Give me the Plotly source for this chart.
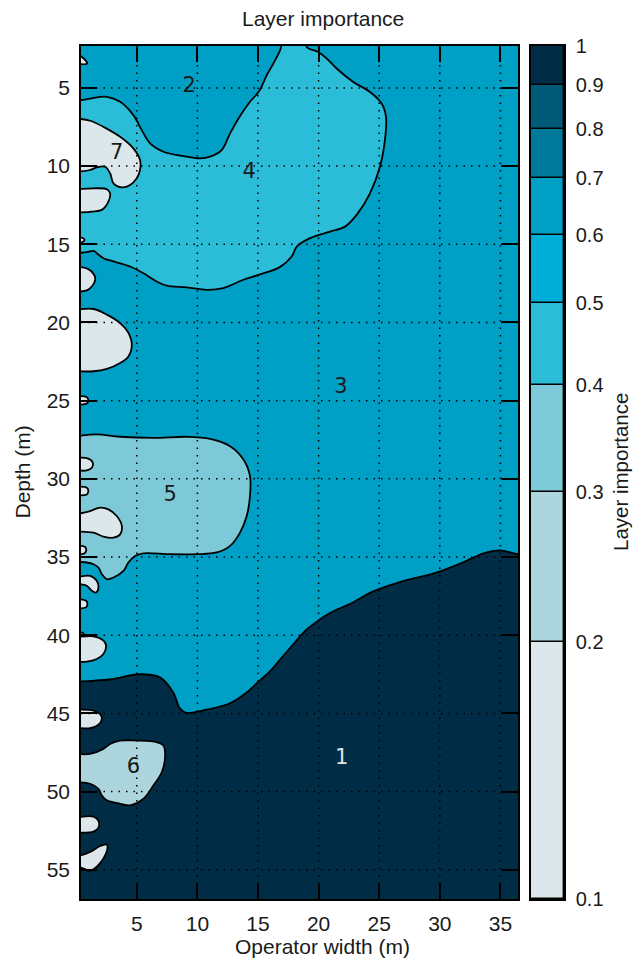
import bisect
import plotly.graph_objects as go

# ---------------- axes ----------------
x_ticks = [5, 10, 15, 20, 25, 30, 35]
y_ticks = [5, 10, 15, 20, 25, 30, 35, 40, 45, 50, 55]
x_range = [0.4, 36.45]
y_range = [56.87, 2.32]

# ---------------- colour levels ----------------
levels = [0.1, 0.2, 0.3, 0.4, 0.5, 0.6, 0.7, 0.8, 0.9, 1.0]
level_labels = ["0.1", "0.2", "0.3", "0.4", "0.5", "0.6", "0.7", "0.8", "0.9", "1"]
band_colors = ["#dce7ec", "#acd5de", "#7dc9d7", "#2bbdd8", "#00afd7",
               "#009fc6", "#007a9a", "#005a78", "#002d45"]

# ---------------- layers ----------------
layer_ids = ["1", "2", "3", "4", "5", "6", "7"]
layer_importance = [0.95, 0.66, 0.64, 0.45, 0.35, 0.25, 0.15]
label_x = [21.9, 9.32, 21.85, 14.27, 7.75, 4.73, 3.35]
label_y = [47.9, 4.95, 24.2, 10.4, 31.1, 48.5, 9.2]

# layer 1 (deep, dark)
layer1_x = [0, 1.5, 3.08, 5.0, 6.9, 8.0, 8.57, 9.1, 10.5, 12.7, 14.0, 15.0, 16.0, 17.0, 18.0,
            19.0, 20.0, 21.0, 22.6, 24.5, 26.7, 29.7, 31.9, 33.6, 34.95, 36.3, 40, 40, 0]
layer1_y = [42.97, 42.9, 42.8, 42.5, 42.7, 43.65, 44.7, 44.97, 44.8, 44.35, 43.7, 43.0, 42.3, 41.4, 40.5,
            39.65, 39.05, 38.55, 38.0, 37.2, 36.6, 36.0, 35.35, 34.76, 34.57, 34.8, 35.3, 60, 60]

# layer 4
layer4_x = [0, 1.15, 2.53, 3.63, 4.72, 5.41, 6.1, 7.2, 8.85, 10.22, 11.05, 12.0, 12.7, 13.52,
            14.34, 15.1, 15.72, 16.27, 16.82, 17.3, 18.9, 19.02, 19.98, 20.67, 21.49, 22.86,
            24.24, 25.2, 25.56, 25.47, 25.06, 24.24, 23.14, 22.18, 20.94, 19.3, 18.2, 17.78,
            16.8, 15.17, 13.8, 12.14, 10.77, 9.12, 7.48, 6.65, 5.55, 4.45, 3.08, 2.25, 1.7,
            1.43, 0.9, 0]
layer4_y = [5.85, 5.68, 5.57, 5.89, 6.74, 7.7, 8.55, 9.08, 9.36, 9.51, 9.4, 8.98, 7.91, 6.8,
            5.89, 5.2, 4.19, 3.44, 2.6, 1.6, 1.6, 2.38, 2.7, 3.12, 3.76, 4.62,
            5.26, 6.0, 6.85, 8.34, 10.04, 11.74, 13.12, 13.87, 14.19, 14.61, 15.15, 15.78,
            16.46, 16.93, 17.27, 17.8, 17.91, 17.76, 17.65, 17.38, 16.85, 16.42, 16.1, 15.89, 15.57,
            15.42, 15.5, 15.57]

# layer 5
layer5_x = [0, 1.7, 3.63, 6.38, 9.12, 11.05, 12.7, 13.8, 14.34, 14.34, 14.07, 13.52, 12.7,
            11.6, 9.95, 7.75, 5.55, 4.86, 4.31, 3.9, 3.08, 2.53, 2.12, 1.84, 1.43, 0.88, 0]
layer5_y = [27.27, 27.16, 27.31, 27.38, 27.31, 27.44, 27.91, 28.76, 29.82, 31.1, 32.38, 33.44, 34.29,
            34.71, 34.82, 34.82, 34.76, 34.93, 35.35, 35.89, 36.31, 36.42, 36.1, 35.67, 35.46, 35.35, 35.31]

# layer 6
layer6_x = [0, 1.15, 2.25, 2.8, 3.63, 5.0, 6.65, 7.2, 7.34, 7.07, 6.38, 5.55, 4.45, 3.63,
            2.53, 2.12, 1.84, 1.15, 0]
layer6_y = [47.59, 47.59, 47.27, 46.95, 46.74, 46.74, 46.84, 47.05, 47.69, 48.75, 49.6, 50.46, 50.88, 50.78,
            50.56, 50.25, 49.82, 49.5, 49.4]

# layer 7
layer7_x = [0, 1.15, 2.25, 3.63, 4.72, 5.27, 5.27, 5.0, 4.45, 3.77, 3.08, 2.8, 2.39, 1.7, 1.15, 0]
layer7_y = [6.95, 7.1, 7.49, 8.13, 8.87, 9.61, 10.25, 10.78, 11.21, 11.36, 11.1, 10.46, 10.04, 10.08, 10.25, 10.36]

# small low-importance patches along the left edge
patch_a_x = [0, 0.45, 0.9, 0];                       patch_a_y = [2.9, 3.0, 3.44, 3.44]
patch_b_x = [0, 1.43, 2.53, 2.8, 2.66, 2.12, 1.29, 0]; patch_b_y = [11.48, 11.42, 11.48, 11.74, 12.27, 12.8, 12.91, 12.98]
patch_c_x = [0, 0.5, 0.7, 0.5, 0];                   patch_c_y = [14.55, 14.58, 14.72, 14.86, 14.89]
patch_d_x = [0, 1.01, 1.48, 1.57, 1.29, 0.88, 0];    patch_d_y = [16.42, 16.59, 16.95, 17.27, 17.7, 17.95, 18.02]
patch_e_x = [0, 1.43, 2.53, 3.63, 4.31, 4.59, 4.31, 3.63, 2.53, 1.43, 0]
patch_e_y = [19.19, 19.14, 19.5, 20.04, 20.67, 21.42, 22.17, 22.59, 22.97, 23.12, 23.12]
patch_f_x = [0, 0.88, 1.01, 0.88, 0];                patch_f_y = [24.72, 24.78, 24.99, 25.18, 25.25]
patch_g_x = [0, 1.01, 1.37, 1.29, 0.88, 0];          patch_g_y = [28.65, 28.71, 28.97, 29.29, 29.46, 29.46]
patch_h_x = [0, 0.88, 1.01, 0.88, 0];                patch_h_y = [30.5, 30.57, 30.78, 31.0, 31.04]
patch_i_x = [0, 1.15, 1.98, 2.66, 3.35, 3.77, 3.63, 3.08, 2.25, 1.43, 0]
patch_i_y = [32.27, 32.06, 31.84, 31.95, 32.38, 33.02, 33.55, 33.76, 33.69, 33.44, 33.37]
patch_j_x = [0, 0.74, 0.82, 0.66, 0];                patch_j_y = [34.29, 34.36, 34.61, 34.78, 34.82]
patch_k_x = [0, 1.15, 1.7, 1.84, 1.65, 1.29, 0.88, 0]; patch_k_y = [36.31, 36.2, 36.52, 36.95, 37.27, 37.16, 36.84, 36.73]
patch_l_x = [0, 0.82, 0.93, 0.82, 0];                patch_l_y = [37.69, 37.8, 38.0, 38.22, 38.29]
patch_m_x = [0, 0.55, 0.62, 0];                      patch_m_y = [39.8, 39.85, 40.0, 40.05]
patch_n_x = [0, 1.43, 2.25, 2.47, 2.25, 1.7, 0.88, 0]; patch_n_y = [40.14, 40.07, 40.35, 40.67, 41.2, 41.52, 41.69, 41.69]
patch_o_x = [0, 1.43, 1.98, 2.12, 1.84, 1.15, 0];    patch_o_y = [44.76, 44.82, 45.05, 45.35, 45.73, 45.95, 45.9]
patch_p_x = [0, 1.43, 1.84, 1.84, 1.43, 0];          patch_p_y = [51.67, 51.6, 51.88, 52.3, 52.56, 52.62]
patch_q_x = [0, 1.15, 1.98, 2.53, 2.58, 2.25, 1.7, 1.15, 0.6, 0]
patch_q_y = [54.18, 53.86, 53.48, 53.39, 53.65, 54.28, 54.81, 55.07, 54.92, 54.7]

patches = [(patch_a_x, patch_a_y), (patch_b_x, patch_b_y), (patch_c_x, patch_c_y),
           (patch_d_x, patch_d_y), (patch_e_x, patch_e_y), (patch_f_x, patch_f_y),
           (patch_g_x, patch_g_y), (patch_h_x, patch_h_y), (patch_i_x, patch_i_y),
           (patch_j_x, patch_j_y), (patch_k_x, patch_k_y), (patch_l_x, patch_l_y),
           (patch_m_x, patch_m_y), (patch_n_x, patch_n_y), (patch_o_x, patch_o_y),
           (patch_p_x, patch_p_y), (patch_q_x, patch_q_y)]
patch_importance = 0.15


def band_color(v):
    i = bisect.bisect_right(levels, v) - 1
    i = max(0, min(i, len(band_colors) - 1))
    return band_colors[i]


FONT = "Liberation Sans, Arial, sans-serif"
LINE_W = 1.8

fig = go.Figure()


def region(xs, ys, imp):
    fig.add_trace(go.Scatter(
        x=xs, y=ys, mode="lines", fill="toself", fillcolor=band_color(imp),
        line=dict(color="black", width=LINE_W, shape="spline", smoothing=1.0),
        hoverinfo="skip", showlegend=False, xaxis="x", yaxis="y"))


region(layer1_x, layer1_y, layer_importance[0])
region(layer4_x, layer4_y, layer_importance[3])
region(layer5_x, layer5_y, layer_importance[4])
region(layer6_x, layer6_y, layer_importance[5])
region(layer7_x, layer7_y, layer_importance[6])

px_all, py_all = [], []
for xs, ys in patches:
    px_all += list(xs) + [None]
    py_all += list(ys) + [None]
region(px_all, py_all, patch_importance)

# layer labels
label_colors = ["#dce7ec" if v > 0.8 else "#1a1a1a" for v in layer_importance]
fig.add_trace(go.Scatter(
    x=label_x, y=label_y, mode="text", text=layer_ids,
    textfont=dict(family="DejaVu Sans, sans-serif", size=21, color=label_colors),
    hoverinfo="skip", showlegend=False, xaxis="x", yaxis="y"))

# colour bar drawn as stacked bands on a log axis
lows = levels[:-1]
heights = [levels[i + 1] - levels[i] for i in range(len(levels) - 1)]
fig.add_trace(go.Bar(
    x=[0] * len(lows), y=heights, base=lows, width=1,
    marker=dict(color=band_colors, line=dict(color="black", width=1.4)),
    hoverinfo="skip", showlegend=False, xaxis="x2", yaxis="y2"))

# dotted grid above the filled regions
shapes = []
for xv in x_ticks:
    shapes.append(dict(type="line", xref="x", yref="y domain", x0=xv, x1=xv, y0=0, y1=1,
                       line=dict(color="black", width=1.5, dash="1.5px,6px"), layer="above"))
for yv in y_ticks:
    shapes.append(dict(type="line", xref="x domain", yref="y", x0=0, x1=1, y0=yv, y1=yv,
                       line=dict(color="black", width=1.5, dash="1.5px,6px"), layer="above"))

W, H = 633, 960
ML, MR, MT, MB = 81, 69, 46, 61
pw = W - ML - MR
ph = H - MT - MB
main_right = (518 - ML) / pw
cb_left = (531 - ML) / pw

axis_common = dict(showline=True, linecolor="black", linewidth=1.5, mirror="allticks",
                   ticks="inside", ticklen=16, tickwidth=1.5, tickcolor="black",
                   showgrid=False, zeroline=False, layer="above traces",
                   tickfont=dict(family=FONT, size=21, color="#1a1a1a"))

fig.update_layout(
    width=W, height=H,
    margin=dict(l=ML, r=MR, t=MT, b=MB),
    paper_bgcolor="white",
    plot_bgcolor=band_color(layer_importance[2]),
    shapes=shapes,
    bargap=0,
    xaxis=dict(domain=[0, main_right], anchor="y", range=x_range, tickvals=x_ticks,
               ticklabelstandoff=5, **axis_common),
    yaxis=dict(domain=[0, 1], anchor="x", range=y_range, tickvals=y_ticks,
               ticklabelstandoff=5, **axis_common),
    xaxis2=dict(domain=[cb_left, 1], anchor="y2", range=[-0.5, 0.5], showticklabels=False,
                ticks="", showline=True, mirror=True, linecolor="black", linewidth=1.5,
                showgrid=False, zeroline=False),
    yaxis2=dict(domain=[0, 1], anchor="x2", type="log", range=[-1, 0], side="right",
                tickvals=levels, ticktext=level_labels, ticks="", showline=True, mirror=True,
                linecolor="black", linewidth=1.5, showgrid=False, zeroline=False,
                ticklabelstandoff=6,
                tickfont=dict(family=FONT, size=20, color="#1a1a1a")),
    annotations=[
        dict(text="Layer importance", xref="paper", yref="paper", x=0.5, y=1 + (MT - 18.2) / ph,
             xanchor="center", yanchor="middle", showarrow=False,
             font=dict(family=FONT, size=21, color="#1a1a1a")),
        dict(text="Operator width (m)", xref="paper", yref="paper", x=0.5, y=-(946.5 - (H - MB)) / ph,
             xanchor="center", yanchor="middle", showarrow=False,
             font=dict(family=FONT, size=21, color="#1a1a1a")),
        dict(text="Depth (m)", xref="paper", yref="paper", x=(22 - ML) / pw, y=0.5,
             xanchor="center", yanchor="middle", textangle=-90, showarrow=False,
             font=dict(family=FONT, size=21, color="#1a1a1a")),
        dict(text="Layer importance", xref="paper", yref="paper", x=(620.5 - ML) / pw, y=0.5,
             xanchor="center", yanchor="middle", textangle=-90, showarrow=False,
             font=dict(family=FONT, size=20.5, color="#1a1a1a")),
    ],
)

fig.write_html("out.html")
